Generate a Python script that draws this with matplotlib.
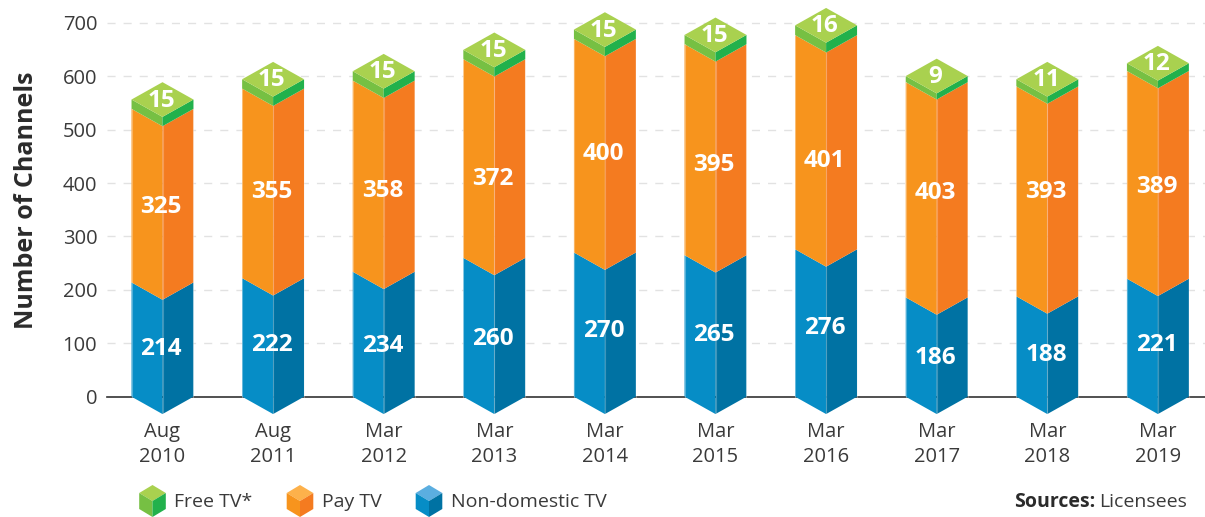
import matplotlib
matplotlib.use('agg')
import matplotlib.pyplot as plt
from matplotlib.patches import Polygon

plt.rcParams['font.family'] = ['Open Sans', 'DejaVu Sans']

# data
months = ['Aug','Aug','Mar','Mar','Mar','Mar','Mar','Mar','Mar','Mar']
years = ['2010','2011','2012','2013','2014','2015','2016','2017','2018','2019']
nondomestic = [214,222,234,260,270,265,276,186,188,221]
paytv = [325,355,358,372,400,395,401,403,393,389]
freetv = [15,15,15,15,15,15,16,9,11,12]
yticks = [0,100,200,300,400,500,600,700]

W,H = 1205,517
x0px,y0px = 107,396.7     # where the axes start, pixels
cx0,dcx = 162.5,110.6     # first bar centre and spacing, pixels
pxunit = 0.534            # pixels per channel

hw = 0.28        # half width of a bar, category units
dz = 32.5        # drop of the front corner, channels
lid = 2.5        # extra thickness of the green lid, channels

# label shifts by hand, pixels downward (the labels do not sit at a fixed spot)
nudge_blue = [1,-1,3,3,-2,1,-4,2,0,-1]
nudge_pay = [3,0,6,12,0,7,10,-5,-8,4]

green = ('#A9D14F','#76C043','#22B14C')
orange = ('#FDB14B','#F7941D','#F47B20')
blue = ('#5BAEE0','#068DC6','#0072A3')

fig = plt.figure(figsize=(W/100,H/100),dpi=100)
ax = fig.add_axes([x0px/W,(H-y0px)/H,(W-x0px)/W,y0px/H])
ax.set_xlim((x0px-cx0)/dcx,(W-cx0)/dcx)
ax.set_ylim(0,y0px/pxunit)

def side(x,lo,hi,c1,c2):
   """ two visible faces of a block, lo and hi are the values at the outer edges """
   ax.add_patch(Polygon([(x-hw,lo),(x,lo-dz),(x,hi-dz),(x-hw,hi)],fc=c1,ec='none',clip_on=False,zorder=3))
   ax.add_patch(Polygon([(x,lo-dz),(x+hw,lo),(x+hw,hi),(x,hi-dz)],fc=c2,ec='none',clip_on=False,zorder=3))

for k in range(len(years)):
   a = nondomestic[k]
   b = a+paytv[k]
   c = b+freetv[k]+lid
   side(k,0,a,blue[1],blue[2])
   side(k,a,b,orange[1],orange[2])
   side(k,b,c,green[1],green[2])
   ax.add_patch(Polygon([(k-hw,c),(k,c+dz),(k+hw,c),(k,c-dz)],fc=green[0],ec='none',zorder=3,clip_on=False))

   # thin light edges on the orange and blue faces
   for xe in (k-hw,k+hw):
      ax.plot([xe,xe],[0,b],color='w',alpha=0.3,lw=0.8,zorder=4,clip_on=False)
   ax.plot([k,k],[-dz,b-dz],color='w',alpha=0.25,lw=0.8,zorder=4,clip_on=False)

   xt = k-0.012
   ax.text(xt,a/2-16-nudge_blue[k]/pxunit,str(nondomestic[k]),color='w',fontsize=17.5,fontweight='bold',ha='center',va='center',zorder=5)
   ax.text(xt,a+paytv[k]/2-16-nudge_pay[k]/pxunit,str(paytv[k]),color='w',fontsize=17.5,fontweight='bold',ha='center',va='center',zorder=5)
   ax.text(xt,c-2,str(freetv[k]),color='w',fontsize=17.5,fontweight='bold',ha='center',va='center',zorder=5)

ax.set_yticks(yticks)
ax.set_yticklabels([str(v) for v in yticks],fontsize=14.5,color='#3a3a3a')
ax.set_xticks(range(len(years)))
ax.set_xticklabels([m+'\n'+y for m,y in zip(months,years)],fontsize=14.5,color='#3a3a3a',linespacing=1.28)
ax.tick_params(axis='y',length=0,pad=7)
ax.tick_params(axis='x',length=0,pad=18.5)
for s in ('top','left','right'):
   ax.spines[s].set_visible(False)
ax.spines['bottom'].set_color('#333333')
ax.spines['bottom'].set_linewidth(1.2)
ax.spines['bottom'].set_zorder(2)
ax.grid(axis='y',color='#e2e2e2',lw=1,linestyle=(0,(5.8,5.8)),zorder=1)
ax.set_axisbelow(True)
ax.patch.set_alpha(0)

fig.text(27/W,1-200/H,'Number of Channels',rotation=90,fontsize=18,fontweight='bold',color='#2b2b2b',ha='center',va='center')

# legend: small cubes, drawn in pixels
def cube(x,y,cols):
   f = lambda pts: [(p/W,1-q/H) for p,q in pts]
   w,h1,h2 = 13.3,8,16
   fig.add_artist(Polygon(f([(x,y-h2),(x+w,y-h1),(x,y),(x-w,y-h1)]),fc=cols[0],ec='none',transform=fig.transFigure))
   fig.add_artist(Polygon(f([(x-w,y-h1),(x,y),(x,y+h2),(x-w,y+h1)]),fc=cols[1],ec='none',transform=fig.transFigure))
   fig.add_artist(Polygon(f([(x,y),(x+w,y-h1),(x+w,y+h1),(x,y+h2)]),fc=cols[2],ec='none',transform=fig.transFigure))

for xc,xt,lab,cols in [(152.5,174,'Free TV*',green),(300,322,'Pay TV',orange),(429,451,'Non-domestic TV',blue)]:
   cube(xc,501,cols)
   fig.text(xt/W,1-502/H,lab,fontsize=14,color='#3a3a3a',ha='left',va='center')

fig.text(1187/W,1-502/H,'Licensees',fontsize=14,color='#3a3a3a',ha='right',va='center')
fig.text(1095/W,1-502/H,'Sources:',fontsize=14,fontweight='bold',color='#2b2b2b',ha='right',va='center')

plt.savefig('out.png',dpi=100)
